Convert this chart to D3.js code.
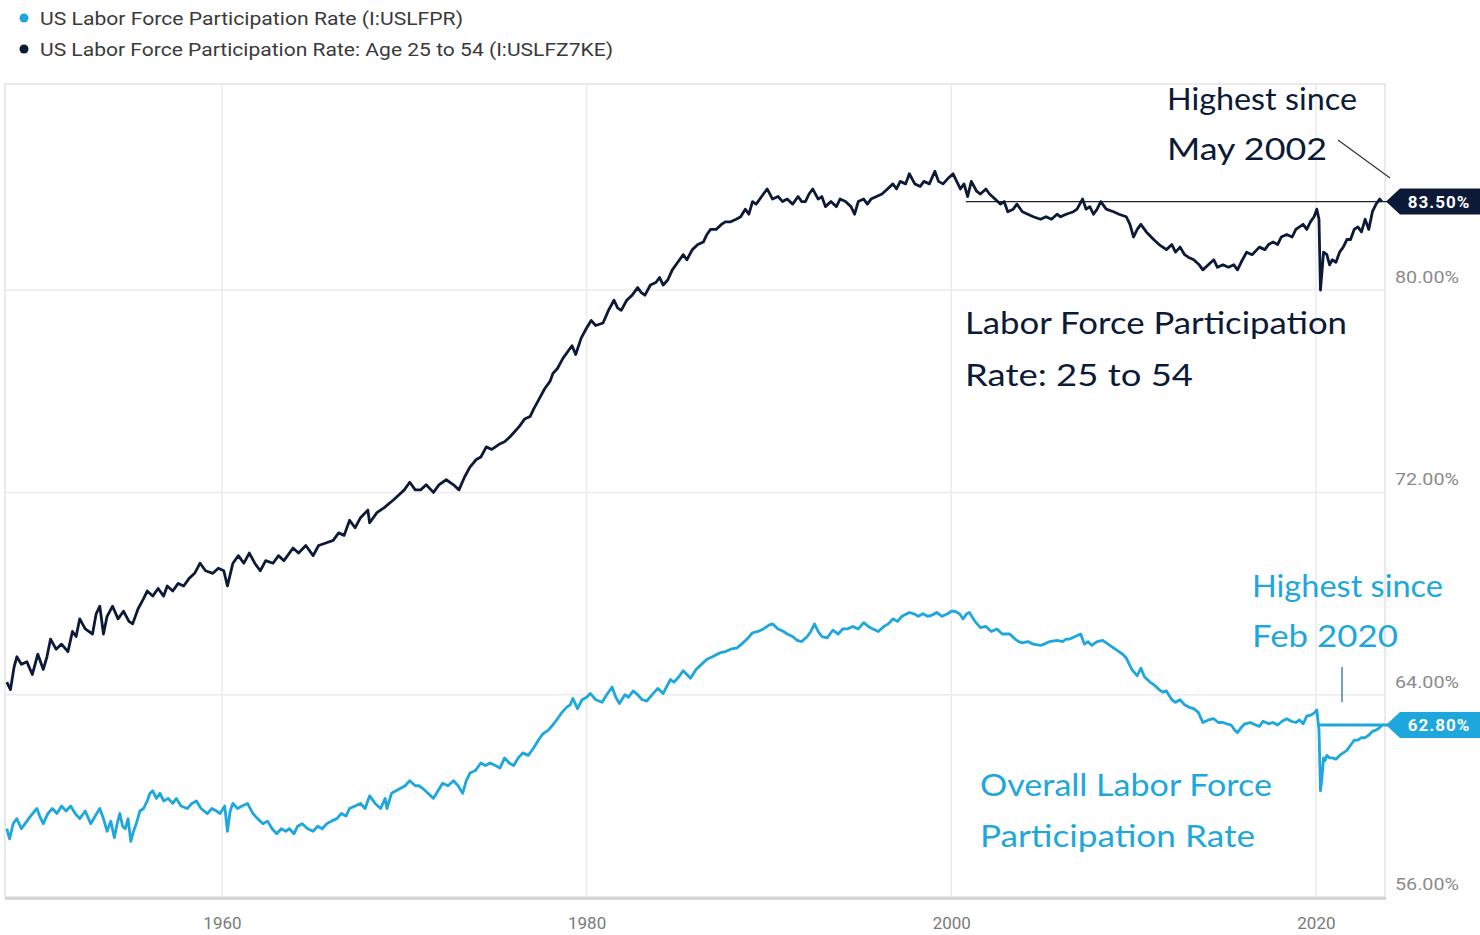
<!DOCTYPE html>
<html>
<head>
<meta charset="utf-8">
<script src="https://cdn.jsdelivr.net/npm/d3@7/dist/d3.min.js"></script>
<style>
  html, body { margin: 0; padding: 0; background: #ffffff; }
  svg { display: block; }
</style>
</head>
<body>
<svg id="chart" width="1480" height="935"></svg>
<script>
// ---------------- DATA ----------------
const seriesNames = [
  "US Labor Force Participation Rate (I:USLFPR)",
  "US Labor Force Participation Rate: Age 25 to 54 (I:USLFZ7KE)"
];
const xTicks = [1960, 1980, 2000, 2020];
const yTicks = [56, 64, 72, 80];

// Age 25 to 54 : [decimal year, percent]
const primeAge = [
[1948.2,64.5],[1948.4,64.2],[1948.6,65.1],[1948.75,65.5],[1949.0,65.2],[1949.3,65.3],[1949.6,64.8],[1949.9,65.6],
[1950.2,65.0],[1950.4,65.5],[1950.6,66.2],[1950.9,65.8],[1951.2,66.0],[1951.55,65.7],[1951.8,66.5],[1952.0,66.3],
[1952.2,67.0],[1952.5,66.6],[1952.9,66.4],[1953.1,67.2],[1953.3,67.5],[1953.5,66.4],[1953.7,67.1],[1954.0,67.5],
[1954.3,67.0],[1954.6,67.3],[1954.9,66.9],[1955.1,66.8],[1955.4,67.4],[1955.7,67.8],[1955.9,68.1],[1956.2,67.9],
[1956.5,68.2],[1956.8,67.9],[1957.0,68.3],[1957.3,68.1],[1957.6,68.4],[1957.9,68.3],[1958.2,68.6],[1958.5,68.8],
[1958.8,69.2],[1959.1,68.9],[1959.5,68.8],[1959.8,69.0],[1960.1,68.9],[1960.3,68.3],[1960.6,69.2],[1960.9,69.5],
[1961.2,69.2],[1961.5,69.6],[1961.8,69.2],[1962.1,68.9],[1962.4,69.3],[1962.8,69.2],[1963.1,69.5],[1963.4,69.3],
[1963.9,69.8],[1964.2,69.6],[1964.6,69.9],[1965.0,69.5],[1965.3,69.9],[1965.7,70.0],[1966.1,70.1],[1966.4,70.4],
[1966.7,70.3],[1967.0,70.9],[1967.3,70.6],[1967.6,71.0],[1968.0,71.3],[1968.1,70.8],[1968.5,71.2],[1968.9,71.4],
[1969.4,71.7],[1969.7,71.9],[1970.0,72.1],[1970.3,72.4],[1970.6,72.1],[1970.9,72.1],[1971.2,72.3],[1971.6,72.0],
[1971.9,72.3],[1972.3,72.5],[1972.7,72.3],[1973.0,72.1],[1973.3,72.6],[1973.6,73.0],[1973.95,73.3],[1974.2,73.4],
[1974.5,73.8],[1974.8,73.7],[1975.2,73.9],[1975.5,74.0],[1975.8,74.2],[1976.05,74.4],[1976.3,74.6],[1976.6,74.9],
[1976.9,75.0],[1977.1,75.3],[1977.4,75.7],[1977.7,76.1],[1978.0,76.4],[1978.15,76.7],[1978.4,76.9],[1978.7,77.3],
[1979.0,77.6],[1979.2,77.8],[1979.4,77.45],[1979.7,78.1],[1980.0,78.5],[1980.25,78.8],[1980.5,78.6],[1980.9,78.7],
[1981.2,79.2],[1981.5,79.6],[1981.7,79.3],[1981.9,79.2],[1982.2,79.6],[1982.5,79.8],[1982.8,80.1],[1983.0,79.9],
[1983.2,79.8],[1983.5,80.2],[1983.8,80.3],[1984.0,80.5],[1984.2,80.2],[1984.45,80.4],[1984.7,80.8],[1985.0,81.1],
[1985.3,81.4],[1985.5,81.2],[1985.8,81.6],[1986.1,81.8],[1986.4,81.9],[1986.6,82.2],[1986.8,82.4],[1987.1,82.4],
[1987.4,82.6],[1987.6,82.7],[1987.9,82.7],[1988.2,82.8],[1988.45,82.9],[1988.7,83.2],[1988.9,83.0],[1989.1,83.5],
[1989.3,83.4],[1989.6,83.7],[1989.9,84.0],[1990.2,83.6],[1990.5,83.7],[1990.75,83.5],[1991.0,83.6],[1991.3,83.4],
[1991.6,83.7],[1991.8,83.5],[1992.0,83.5],[1992.2,83.8],[1992.4,84.0],[1992.7,83.6],[1992.9,83.7],[1993.1,83.3],
[1993.4,83.5],[1993.7,83.3],[1993.9,83.6],[1994.2,83.5],[1994.5,83.3],[1994.7,83.0],[1994.9,83.5],[1995.2,83.6],
[1995.4,83.4],[1995.6,83.6],[1995.9,83.7],[1996.2,83.8],[1996.5,84.0],[1996.8,84.2],[1997.0,84.0],[1997.2,84.3],
[1997.5,84.2],[1997.7,84.6],[1998.0,84.2],[1998.3,84.1],[1998.5,84.3],[1998.8,84.2],[1999.1,84.7],[1999.3,84.3],
[1999.55,84.2],[1999.8,84.4],[2000.1,84.6],[2000.3,84.3],[2000.5,84.0],[2000.7,84.2],[2000.9,83.7],[2001.1,84.3],
[2001.4,83.9],[2001.6,83.8],[2001.9,84.0],[2002.1,83.8],[2002.4,83.6],[2002.7,83.4],[2002.9,83.5],[2003.1,83.1],
[2003.4,83.2],[2003.6,83.4],[2003.9,83.1],[2004.2,83.0],[2004.5,82.9],[2004.9,82.8],[2005.2,82.9],[2005.5,82.8],
[2005.8,83.0],[2006.0,82.9],[2006.3,83.0],[2006.7,83.1],[2006.9,83.2],[2007.2,83.6],[2007.4,83.2],[2007.6,83.3],
[2007.8,83.0],[2008.0,83.2],[2008.2,83.5],[2008.5,83.2],[2008.9,83.1],[2009.2,83.0],[2009.6,82.9],[2009.8,82.6],
[2010.0,82.1],[2010.2,82.4],[2010.4,82.6],[2010.7,82.3],[2011.1,82.0],[2011.4,81.8],[2011.8,81.6],[2012.1,81.8],
[2012.3,81.5],[2012.55,81.7],[2012.8,81.4],[2013.0,81.3],[2013.3,81.2],[2013.6,81.0],[2013.8,80.8],[2014.1,81.0],
[2014.4,81.2],[2014.6,80.9],[2014.9,81.0],[2015.2,80.9],[2015.5,81.0],[2015.7,80.8],[2015.9,81.1],[2016.2,81.5],
[2016.5,81.4],[2016.9,81.7],[2017.2,81.6],[2017.4,81.8],[2017.65,81.9],[2017.9,81.8],[2018.1,82.1],[2018.4,82.2],
[2018.7,82.1],[2018.9,82.4],[2019.1,82.5],[2019.3,82.6],[2019.5,82.4],[2019.7,82.7],[2019.9,82.9],[2020.05,83.2],
[2020.17,82.8],[2020.25,80.0],[2020.33,80.7],[2020.42,81.5],[2020.6,81.4],[2020.75,81.0],[2020.9,81.2],[2021.1,81.1],
[2021.3,81.5],[2021.5,81.7],[2021.7,82.0],[2021.9,82.0],[2022.1,82.4],[2022.3,82.5],[2022.5,82.3],[2022.7,82.8],
[2022.9,82.4],[2023.1,83.1],[2023.3,83.4],[2023.5,83.6],[2023.62,83.5]
];

// Overall rate : [decimal year, percent]
const overall = [
[1948.2,58.7],[1948.35,58.3],[1948.55,58.9],[1948.75,59.1],[1949.0,58.7],[1949.2,58.9],[1949.5,59.2],[1949.85,59.5],
[1950.0,59.2],[1950.2,58.9],[1950.45,59.3],[1950.7,59.5],[1950.95,59.3],[1951.2,59.6],[1951.45,59.4],[1951.7,59.6],
[1951.95,59.3],[1952.2,59.1],[1952.5,59.4],[1952.8,58.9],[1953.05,59.2],[1953.3,59.5],[1953.5,59.1],[1953.7,58.6],
[1953.9,59.0],[1954.1,58.35],[1954.25,58.9],[1954.4,59.3],[1954.55,58.8],[1954.7,58.7],[1954.85,59.1],[1955.0,58.2],
[1955.15,58.6],[1955.3,58.9],[1955.5,59.4],[1955.7,59.5],[1955.9,59.8],[1956.05,60.1],[1956.2,60.2],[1956.4,59.9],
[1956.6,60.1],[1956.8,59.8],[1957.05,59.9],[1957.3,59.7],[1957.5,59.9],[1957.75,59.6],[1958.1,59.5],[1958.35,59.7],
[1958.6,59.8],[1958.85,59.5],[1959.2,59.3],[1959.45,59.5],[1959.7,59.4],[1959.9,59.3],[1960.15,59.6],[1960.3,58.6],
[1960.45,59.4],[1960.6,59.7],[1960.85,59.5],[1961.1,59.6],[1961.4,59.7],[1961.7,59.3],[1961.95,59.1],[1962.25,58.9],
[1962.5,59.0],[1962.75,58.7],[1963.0,58.5],[1963.25,58.7],[1963.5,58.6],[1963.7,58.7],[1963.95,58.5],[1964.15,58.8],
[1964.4,58.9],[1964.7,58.7],[1965.0,58.6],[1965.25,58.8],[1965.5,58.7],[1965.75,58.9],[1966.0,59.0],[1966.3,59.1],
[1966.55,59.3],[1966.8,59.2],[1967.0,59.5],[1967.3,59.6],[1967.6,59.7],[1967.85,59.5],[1968.1,60.0],[1968.4,59.7],
[1968.7,59.5],[1968.95,59.9],[1969.05,59.5],[1969.3,60.1],[1969.55,60.2],[1969.8,60.3],[1970.05,60.4],[1970.3,60.6],
[1970.6,60.4],[1970.8,60.4],[1971.0,60.3],[1971.3,60.1],[1971.6,59.9],[1971.85,60.2],[1972.1,60.5],[1972.4,60.4],
[1972.7,60.6],[1972.95,60.4],[1973.2,60.1],[1973.4,60.6],[1973.6,60.9],[1973.9,61.0],[1974.2,61.3],[1974.45,61.2],
[1974.7,61.3],[1975.0,61.2],[1975.25,61.1],[1975.5,61.5],[1975.75,61.3],[1976.0,61.2],[1976.25,61.5],[1976.5,61.7],
[1976.8,61.6],[1977.1,61.9],[1977.35,62.2],[1977.6,62.45],[1977.9,62.6],[1978.2,62.85],[1978.45,63.1],[1978.65,63.3],
[1978.9,63.5],[1979.1,63.6],[1979.25,63.85],[1979.5,63.45],[1979.75,63.8],[1980.0,63.9],[1980.2,64.05],[1980.5,63.8],
[1980.85,63.7],[1981.1,64.0],[1981.4,64.3],[1981.6,63.9],[1981.8,63.65],[1982.1,64.0],[1982.3,63.9],[1982.55,64.15],
[1982.8,64.0],[1983.05,63.8],[1983.3,63.75],[1983.6,64.0],[1983.9,64.25],[1984.2,64.05],[1984.45,64.4],[1984.6,64.6],
[1984.8,64.5],[1985.05,64.7],[1985.3,64.95],[1985.5,64.8],[1985.7,64.65],[1986.0,65.0],[1986.3,65.2],[1986.6,65.4],
[1986.9,65.5],[1987.3,65.65],[1987.6,65.7],[1987.9,65.8],[1988.25,65.85],[1988.5,66.0],[1988.8,66.2],[1989.1,66.45],
[1989.4,66.5],[1989.7,66.6],[1990.0,66.75],[1990.2,66.8],[1990.5,66.6],[1990.8,66.5],[1991.0,66.4],[1991.3,66.3],
[1991.55,66.15],[1991.8,66.1],[1992.1,66.3],[1992.3,66.5],[1992.5,66.8],[1992.7,66.5],[1992.9,66.3],[1993.2,66.25],
[1993.35,66.4],[1993.5,66.55],[1993.8,66.4],[1994.05,66.6],[1994.3,66.6],[1994.6,66.7],[1994.9,66.6],[1995.2,66.85],
[1995.45,66.7],[1995.7,66.6],[1996.0,66.5],[1996.3,66.7],[1996.55,66.8],[1996.8,67.0],[1997.05,66.9],[1997.3,67.1],
[1997.7,67.25],[1997.95,67.2],[1998.2,67.1],[1998.45,67.2],[1998.7,67.1],[1998.95,67.15],[1999.2,67.25],[1999.5,67.1],
[1999.8,67.2],[2000.0,67.3],[2000.2,67.3],[2000.45,67.2],[2000.65,67.0],[2000.85,67.2],[2001.0,67.25],[2001.3,66.9],
[2001.6,66.65],[2001.9,66.7],[2002.2,66.5],[2002.5,66.6],[2002.8,66.4],[2003.0,66.4],[2003.2,66.4],[2003.5,66.2],
[2003.7,66.1],[2003.9,66.05],[2004.2,66.1],[2004.5,66.0],[2004.9,65.95],[2005.1,66.0],[2005.4,66.1],[2005.8,66.15],
[2006.1,66.1],[2006.3,66.2],[2006.5,66.2],[2006.8,66.3],[2007.1,66.4],[2007.3,66.0],[2007.5,66.1],[2007.7,65.95],
[2008.0,66.1],[2008.3,66.15],[2008.6,66.0],[2008.9,65.85],[2009.2,65.7],[2009.4,65.6],[2009.6,65.45],[2009.9,65.0],
[2010.2,64.75],[2010.4,65.05],[2010.6,64.7],[2010.9,64.5],[2011.1,64.4],[2011.4,64.2],[2011.6,64.1],[2011.8,64.15],
[2012.1,63.8],[2012.3,63.7],[2012.55,63.8],[2012.8,63.6],[2013.05,63.5],[2013.3,63.45],[2013.55,63.3],[2013.8,62.9],
[2014.1,63.0],[2014.4,63.05],[2014.65,62.9],[2014.9,62.9],[2015.1,62.85],[2015.35,62.8],[2015.55,62.6],[2015.7,62.5],
[2015.9,62.7],[2016.1,62.85],[2016.4,62.9],[2016.7,62.8],[2016.9,62.75],[2017.1,62.95],[2017.4,62.85],[2017.65,62.9],
[2017.9,62.8],[2018.15,62.95],[2018.4,63.05],[2018.65,62.95],[2018.9,62.9],[2019.1,63.0],[2019.3,62.85],[2019.5,63.15],
[2019.75,63.2],[2019.95,63.3],[2020.05,63.4],[2020.17,62.6],[2020.25,60.2],[2020.33,60.7],[2020.42,61.5],[2020.5,61.4],
[2020.6,61.6],[2020.75,61.5],[2020.9,61.5],[2021.1,61.45],[2021.3,61.6],[2021.5,61.7],[2021.7,61.8],[2021.9,62.0],
[2022.1,62.2],[2022.3,62.2],[2022.5,62.3],[2022.7,62.3],[2022.9,62.4],[2023.1,62.55],[2023.3,62.6],[2023.5,62.7],
[2023.62,62.8]
];

const primeLatest = 83.5;     // badge / reference line
const overallLatest = 62.8;
const primeRefStart = 2000.8; // "Highest since May 2002" line start
const overallRefStart = 2020.1;

// ---------------- LAYOUT ----------------
const NAVY = "#0c1a38";
const CYAN = "#1ea7dd";
const plot = { left: 5, right: 1385, top: 84, bottom: 897 };

const svg = d3.select("#chart");

const x = d3.scaleLinear().domain([1948.1, 2023.79]).range([plot.left, plot.right]);
const y = d3.scaleLinear().domain([56, 88.15]).range([plot.bottom, plot.top]);

// frame
svg.append("rect")
  .attr("x", plot.left).attr("y", plot.top)
  .attr("width", plot.right - plot.left).attr("height", plot.bottom - plot.top)
  .attr("fill", "#fff").attr("stroke", "#e3e3e3").attr("stroke-width", 1.5);
svg.append("line")
  .attr("x1", plot.left).attr("x2", plot.right + 1)
  .attr("y1", plot.bottom + 1.5).attr("y2", plot.bottom + 1.5)
  .attr("stroke", "#d0d0d0").attr("stroke-width", 2.5);

// grid
const grid = svg.append("g");
grid.selectAll("line.v").data(xTicks).join("line")
  .attr("x1", d => x(d)).attr("x2", d => x(d))
  .attr("y1", plot.top).attr("y2", plot.bottom)
  .attr("stroke", "#ebebeb").attr("stroke-width", 1.5);
grid.selectAll("line.h").data(yTicks.filter(d => d > 56)).join("line")
  .attr("x1", plot.left).attr("x2", plot.right)
  .attr("y1", d => y(d)).attr("y2", d => y(d))
  .attr("stroke", "#ebebeb").attr("stroke-width", 1.5);

// axes
const xAxis = d3.axisBottom(x).tickValues(xTicks).tickFormat(d3.format("d")).tickSize(0).tickPadding(0);
const gx = svg.append("g").attr("transform", `translate(0,${plot.bottom})`).call(xAxis);
gx.select(".domain").remove();
gx.selectAll("text")
  .attr("dy", 0).attr("y", 32)
  .attr("fill", "#7a7a7a").style("font-family", "Roboto, sans-serif").style("font-size", "17px");

const yAxis = d3.axisRight(y).tickValues(yTicks).tickFormat(d => d.toFixed(2) + "%").tickSize(0).tickPadding(0);
const gy = svg.append("g").attr("transform", `translate(${plot.right + 10},0)`).call(yAxis);
gy.select(".domain").remove();
gy.selectAll("text")
  .attr("dy", "-0.45em").attr("x", 0)
  .attr("fill", "#8a8a8a").style("font-family", "Roboto, sans-serif").style("font-size", "17px")
  .attr("textLength", 64).attr("lengthAdjust", "spacingAndGlyphs");

// reference lines
svg.append("line")
  .attr("x1", x(primeRefStart)).attr("x2", plot.right + 4)
  .attr("y1", y(primeLatest)).attr("y2", y(primeLatest))
  .attr("stroke", "#1b2333").attr("stroke-width", 1.4);
svg.append("line")
  .attr("x1", x(overallRefStart)).attr("x2", plot.right + 4)
  .attr("y1", y(overallLatest)).attr("y2", y(overallLatest))
  .attr("stroke", CYAN).attr("stroke-width", 3);

// lines
const line = d3.line().x(d => x(d[0])).y(d => y(d[1])).curve(d3.curveLinear);
svg.append("path").datum(overall)
  .attr("d", line).attr("fill", "none").attr("stroke", CYAN)
  .attr("stroke-width", 2.8).attr("stroke-linejoin", "round");
svg.append("path").datum(primeAge)
  .attr("d", line).attr("fill", "none").attr("stroke", NAVY)
  .attr("stroke-width", 2.8).attr("stroke-linejoin", "round");

// badges
function badge(val, color) {
  const yv = y(val);
  const x0 = plot.right + 1;
  const h = 13;
  svg.append("path")
    .attr("d", `M${x0},${yv} L${x0 + 14},${yv - h} L1480,${yv - h} L1480,${yv + h} L${x0 + 14},${yv + h} Z`)
    .attr("fill", color);
  svg.append("text")
    .attr("x", x0 + 53).attr("y", yv).attr("dy", "0.36em")
    .attr("text-anchor", "middle")
    .attr("fill", "#fff").style("font-family", "Roboto, sans-serif")
    .style("font-weight", "700").style("font-size", "17px").style("letter-spacing", "1px")
    .text(val.toFixed(2) + "%");
}
badge(primeLatest, NAVY);
badge(overallLatest, CYAN);

// legend
const legendColors = [CYAN, NAVY];
const legendWidths = [423, 573];
const lg = svg.append("g");
seriesNames.forEach((name, i) => {
  const ly = 18 + i * 31;
  lg.append("circle").attr("cx", 24).attr("cy", ly).attr("r", 4.5).attr("fill", legendColors[i]);
  lg.append("text").attr("x", 40).attr("y", ly).attr("dy", "0.36em")
    .attr("fill", "#3a3a3a").style("font-family", "Roboto, sans-serif").style("font-size", "19px")
    .attr("textLength", legendWidths[i]).attr("lengthAdjust", "spacingAndGlyphs")
    .text(name);
});

// annotations (handwritten style)
const ann = [
  { t: "Highest since", x: 1167, y: 110, w: 190, c: NAVY },
  { t: "May 2002", x: 1167, y: 160, w: 160, c: NAVY },
  { t: "Labor Force Participation", x: 965, y: 334, w: 382, c: NAVY },
  { t: "Rate: 25 to 54", x: 965, y: 386, w: 228, c: NAVY },
  { t: "Highest since", x: 1252, y: 597, w: 191, c: CYAN },
  { t: "Feb 2020", x: 1252, y: 647, w: 146, c: CYAN },
  { t: "Overall Labor Force", x: 980, y: 796, w: 292, c: CYAN },
  { t: "Participation Rate", x: 980, y: 847, w: 275, c: CYAN }
];
svg.append("g").selectAll("text").data(ann).join("text")
  .attr("x", d => d.x).attr("y", d => d.y)
  .attr("fill", d => d.c)
  .style("font-family", "'Comic Sans MS', 'Segoe Print', Lato, sans-serif")
  .style("font-size", "30px")
  .attr("textLength", d => d.w).attr("lengthAdjust", "spacingAndGlyphs")
  .text(d => d.t);

// pointers
svg.append("line").attr("x1", 1338).attr("y1", 140).attr("x2", 1390).attr("y2", 178)
  .attr("stroke", "#2b3340").attr("stroke-width", 1.2);
svg.append("line").attr("x1", 1342).attr("y1", 667).attr("x2", 1342).attr("y2", 702)
  .attr("stroke", "#3b7d9c").attr("stroke-width", 1.4);
</script>
</body>
</html>
